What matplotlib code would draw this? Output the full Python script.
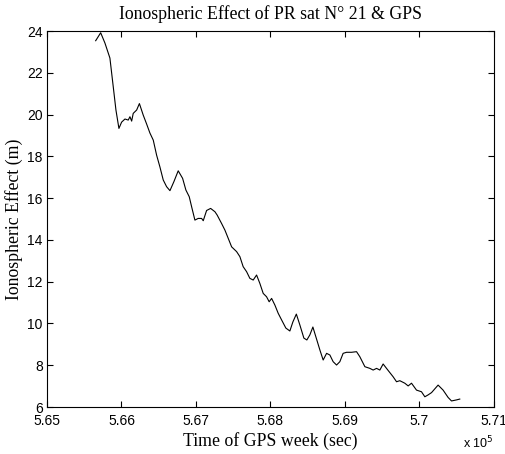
import matplotlib.pyplot as plt
from matplotlib.ticker import FuncFormatter

# time of GPS week (sec)
time_sec = [565654, 565721, 565778, 565845, 565890, 565926, 565966, 566002, 566047, 566091,
            566114, 566137, 566158, 566204, 566241, 566292, 566338, 566382, 566427, 566472,
            566516, 566561, 566606, 566651, 566704, 566762, 566821, 566865, 566910, 566942,
            566986, 567030, 567076, 567098, 567143, 567197, 567255, 567285, 567344, 567389,
            567433, 567479, 567546, 567590, 567634, 567680, 567724, 567769, 567814, 567858,
            567903, 567948, 567983, 568016, 568060, 568104, 568150, 568207, 568261, 568301,
            568348, 568395, 568449, 568489, 568529, 568570, 568623, 568664, 568708, 568754,
            568798, 568842, 568888, 568932, 568976, 569022, 569089, 569156, 569200, 569268,
            569335, 569379, 569425, 569469, 569513, 569576, 569647, 569693, 569737, 569804,
            569849, 569894, 569961, 570028, 570073, 570117, 570163, 570251, 570318, 570385,
            570431, 570498, 570542]

# ionospheric effect (m)
iono = [23.54, 23.92, 23.43, 22.71, 21.33, 20.22, 19.34, 19.64, 19.79, 19.74,
        19.90, 19.69, 20.06, 20.22, 20.53, 19.98, 19.55, 19.12, 18.78, 18.06,
        17.50, 16.87, 16.55, 16.36, 16.79, 17.31, 16.95, 16.39, 16.07, 15.59,
        14.95, 15.03, 15.03, 14.92, 15.41, 15.51, 15.35, 15.19, 14.79, 14.47,
        14.08, 13.67, 13.44, 13.20, 12.72, 12.48, 12.16, 12.08, 12.32, 11.92,
        11.44, 11.28, 11.04, 11.20, 10.88, 10.49, 10.17, 9.78, 9.64, 10.07,
        10.45, 9.93, 9.30, 9.21, 9.45, 9.83, 9.21, 8.73, 8.25, 8.57,
        8.49, 8.17, 8.01, 8.17, 8.57, 8.62, 8.62, 8.65, 8.41, 7.93,
        7.85, 7.77, 7.85, 7.77, 8.06, 7.77, 7.45, 7.21, 7.26, 7.14,
        7.01, 7.14, 6.81, 6.73, 6.49, 6.58, 6.69, 7.05, 6.81, 6.46,
        6.29, 6.34, 6.38]

xticks = [565000, 566000, 567000, 568000, 569000, 570000, 571000]
yticks = [6, 8, 10, 12, 14, 16, 18, 20, 22, 24]

fig = plt.figure(figsize=(5.05, 4.54), dpi=100)
ax = fig.add_axes([0.093, 0.1035, 0.885, 0.828])

ax.plot(time_sec, iono, color="black", linewidth=0.8)

ax.set_xlim(565000, 571000)
ax.set_ylim(6, 24)
ax.set_xticks(xticks)
ax.set_yticks(yticks)
ax.xaxis.set_major_formatter(FuncFormatter(lambda v, p: f"{v/1e5:g}"))

ax.tick_params(direction="in", top=True, right=True, length=4, width=0.8,
               labelsize=10, pad=3)
ax.tick_params(axis="x", pad=5)
for lab in ax.get_xticklabels() + ax.get_yticklabels():
    lab.set_family("Liberation Sans")

serif = "Liberation Serif"
ax.set_title("Ionospheric Effect of PR sat N° 21 & GPS", family=serif, fontsize=12.8, pad=9)
ax.set_xlabel("Time of GPS week (sec)", family=serif, fontsize=12.8, labelpad=3)
ax.set_ylabel("Ionospheric Effect (m)", family=serif, fontsize=12.8, labelpad=3)

fig.text(0.917, 0.012, "x 10$^5$", family="Liberation Sans", fontsize=9)

fig.savefig("out.png", dpi=100)
